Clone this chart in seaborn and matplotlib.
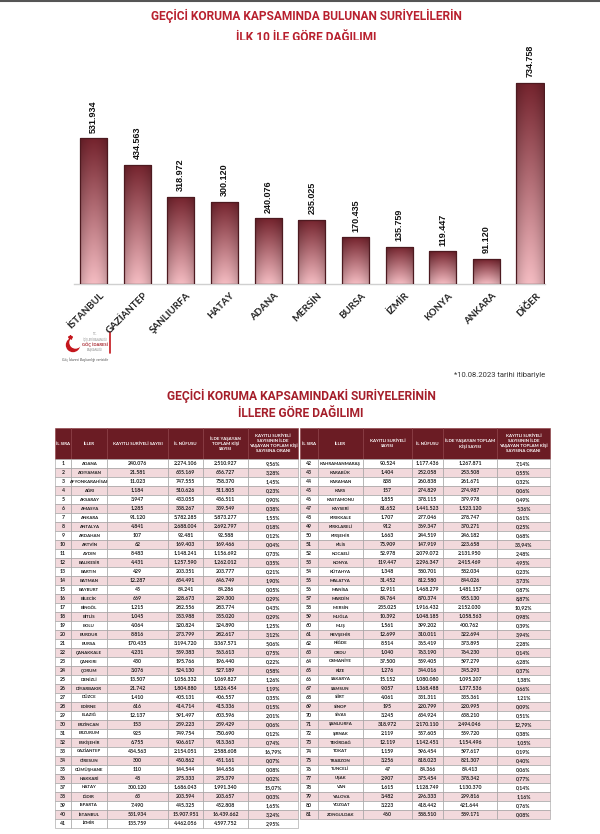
import seaborn as sns
import matplotlib.pyplot as plt
import matplotlib.colors as mcolors
import matplotlib.transforms as mtransforms
from matplotlib.patches import Circle
import numpy as np

# --- data: ilk 10 il + diğer ---
bar_labels = ["İSTANBUL", "GAZİANTEP", "ŞANLIURFA", "HATAY", "ADANA", "MERSİN",
              "BURSA", "İZMİR", "KONYA", "ANKARA", "DİĞER"]
bar_values = [531934, 434563, 318972, 300120, 240076, 235025,
              170435, 135759, 119447, 91120, 734758]

# --- data: 81 il tablosu ---
iller = ["ADANA", "ADIYAMAN", "AFYONKARAHİSAR", "AĞRI", "AKSARAY", "AMASYA", "ANKARA",
         "ANTALYA", "ARDAHAN", "ARTVİN", "AYDIN", "BALIKESİR", "BARTIN", "BATMAN",
         "BAYBURT", "BİLECİK", "BİNGÖL", "BİTLİS", "BOLU", "BURDUR", "BURSA",
         "ÇANAKKALE", "ÇANKIRI", "ÇORUM", "DENİZLİ", "DİYARBAKIR", "DÜZCE", "EDİRNE",
         "ELAZIĞ", "ERZİNCAN", "ERZURUM", "ESKİŞEHİR", "GAZİANTEP", "GİRESUN",
         "GÜMÜŞHANE", "HAKKARİ", "HATAY", "IĞDIR", "ISPARTA", "İSTANBUL", "İZMİR",
         "KAHRAMANMARAŞ", "KARABÜK", "KARAMAN", "KARS", "KASTAMONU", "KAYSERİ",
         "KIRIKKALE", "KIRKLARELİ", "KIRŞEHİR", "KİLİS", "KOCAELİ", "KONYA", "KÜTAHYA",
         "MALATYA", "MANİSA", "MARDİN", "MERSİN", "MUĞLA", "MUŞ", "NEVŞEHİR", "NİĞDE",
         "ORDU", "OSMANİYE", "RİZE", "SAKARYA", "SAMSUN", "SİİRT", "SİNOP", "SİVAS",
         "ŞANLIURFA", "ŞIRNAK", "TEKİRDAĞ", "TOKAT", "TRABZON", "TUNCELİ", "UŞAK",
         "VAN", "YALOVA", "YOZGAT", "ZONGULDAK"]
kayitli = [240076, 21581, 11023, 1184, 3947, 1285, 91120, 4841, 107, 62, 8483, 4431,
           429, 12287, 45, 669, 1215, 1045, 4064, 8816, 170435, 4231, 430, 3076, 13507,
           21742, 1410, 616, 12137, 153, 925, 6755, 434563, 300, 110, 48, 300120, 63,
           7490, 531934, 135759,
           90524, 1404, 838, 157, 1855, 81652, 1707, 912, 1663, 75909, 52978, 119447,
           1348, 31452, 12911, 84764, 235025, 10392, 1561, 12699, 8514, 1040, 37500,
           1276, 15152, 9057, 4061, 195, 3245, 318972, 2119, 12119, 1159, 3256, 47,
           2907, 1615, 3482, 3223, 460]
nufus = [2274106, 635169, 747555, 510626, 433055, 338267, 5782285, 2688004, 92481,
         169403, 1148241, 1257590, 203351, 634491, 84241, 228673, 282556, 353988,
         320824, 273799, 3194720, 559383, 195766, 524130, 1056332, 1804880, 405131,
         414714, 591497, 239223, 749754, 906617, 2154051, 450862, 144544, 275333,
         1686043, 203594, 445325, 15907951, 4462056,
         1177436, 252058, 260838, 274829, 378115, 1441523, 277046, 369347, 244519,
         147919, 2079072, 2296347, 580701, 812580, 1468279, 870374, 1916432, 1048185,
         399202, 310011, 365419, 763190, 559405, 344016, 1080080, 1368488, 331311,
         220799, 634924, 2170110, 557605, 1142451, 596454, 818023, 84366, 375454,
         1128749, 296333, 418442, 588510]
toplam = [2510927, 656727, 758370, 511805, 436511, 339549, 5873277, 2692797, 92588,
          169466, 1156692, 1262012, 203777, 646749, 84286, 229300, 283774, 355020,
          324890, 282617, 3367571, 563613, 196440, 527189, 1069827, 1826454, 406557,
          415336, 603596, 239429, 750690, 913363, 2588608, 451161, 144656, 275379,
          1991340, 203657, 452808, 16439662, 4597752,
          1267871, 253508, 261671, 274987, 379978, 1523120, 278747, 370271, 246182,
          223658, 2131950, 2415469, 582034, 844026, 1481157, 955130, 2152030, 1058563,
          400762, 322694, 373895, 764230, 597279, 345293, 1095207, 1377536, 335361,
          220995, 638210, 2494046, 559720, 1154496, 597617, 821307, 84413, 378342,
          1130370, 299816, 421644, 589171]
oran = [9.56, 3.28, 1.45, 0.23, 0.90, 0.38, 1.55, 0.18, 0.12, 0.04, 0.73, 0.35, 0.21,
        1.90, 0.05, 0.29, 0.43, 0.29, 1.25, 3.12, 5.06, 0.75, 0.22, 0.58, 1.26, 1.19,
        0.35, 0.15, 2.01, 0.06, 0.12, 0.74, 16.79, 0.07, 0.08, 0.02, 15.07, 0.03, 1.65,
        3.24, 2.95,
        7.14, 0.55, 0.32, 0.06, 0.49, 5.36, 0.61, 0.25, 0.68, 33.94, 2.48, 4.95, 0.23,
        3.73, 0.87, 8.87, 10.92, 0.98, 0.39, 3.94, 2.28, 0.14, 6.28, 0.37, 1.38, 0.66,
        1.21, 0.09, 0.51, 12.79, 0.38, 1.05, 0.19, 0.40, 0.06, 0.77, 0.14, 1.16, 0.76,
        0.08]

head_left = ["İL SIRA", "İLLER", "KAYITLI SURİYELİ SAYISI", "İL NÜFUSU",
             "İLDE YAŞAYAN\nTOPLAM KİŞİ\nSAYISI",
             "KAYITLI SURİYELİ\nSAYISININ İLDE\nYAŞAYAN TOPLAM KİŞİ\nSAYISINA ORANI"]
head_right = ["İL SIRA", "İLLER", "KAYITLI SURİYELİ\nSAYISI", "İL NÜFUSU",
              "İLDE YAŞAYAN TOPLAM\nKİŞİ SAYISI",
              "KAYITLI SURİYELİ\nSAYISININ İLDE\nYAŞAYAN TOPLAM KİŞİ\nSAYISINA ORANI"]

TITLE_FONT = ["Roboto", "DejaVu Sans"]
RED = "#b8202e"
W, H = 600, 834


def tr(n):
    return f"{n:,}".replace(",", ".")


def pct(v):
    return f"{v:.2f}".replace(".", ",") + "%"


sns.set_theme(style="white")
plt.rcParams["font.family"] = ["Lato", "DejaVu Sans"]

fig = plt.figure(figsize=(W / 100, H / 100), dpi=100)
renderer = fig.canvas.get_renderer()


def fit_width(txt, target_px):
    # scale the font so the text spans about the same width as in the reference
    w = txt.get_window_extent(renderer=renderer).width
    txt.set_fontsize(txt.get_fontsize() * target_px / w)
    return txt.get_fontsize()


# ---------------- bar chart ----------------
ax = fig.add_axes([73.9 / W, 1 - 284 / H, (545.3 - 73.9) / W, (284 - 40) / H])
sns.barplot(x=bar_labels, y=bar_values, width=0.62, color="#c07880", ax=ax)

top_c = np.array(mcolors.to_rgb("#74232d"))
bot_c = np.array(mcolors.to_rgb("#f4bcc2"))
for p in ax.patches:
    x0, y0, w, h = p.get_x(), p.get_y(), p.get_width(), p.get_height()
    t = np.linspace(0, 1, 120)[:, None, None]
    img = bot_c + (top_c - bot_c) * t
    shade = np.sin(np.linspace(0.15, np.pi - 0.15, 40))[None, :, None]
    img = np.clip(img * (0.78 + 0.22 * shade), 0, 1)
    im = ax.imshow(img, extent=[x0, x0 + w, y0, y0 + h], origin="lower",
                   aspect="auto", zorder=2)
    im.set_clip_path(p)
    p.set_facecolor("none")
    p.set_edgecolor("#4d1a20")
    p.set_linewidth(0.9)
    p.set_zorder(3)

for i, v in enumerate(bar_values):
    ax.annotate(tr(v), (i, v), xytext=(0, 4), textcoords="offset points",
                rotation=90, ha="center", va="bottom", fontsize=6.5,
                fontweight="bold", family="Liberation Sans", color="#111111")

ax.set_xlim(-0.45, 10.35)
ax.set_ylim(0, 890000)
ax.set_yticks([])
ax.set_ylabel("")
for s in ["top", "left", "right"]:
    ax.spines[s].set_visible(False)
ax.spines["bottom"].set_color("#d0d0d0")
ax.spines["bottom"].set_linewidth(1)
ax.tick_params(axis="x", length=0, pad=2)
ax.set_xticks(range(len(bar_labels)))
ax.set_xticklabels(bar_labels, rotation=45, ha="right", rotation_mode="anchor",
                   fontsize=7, fontweight="bold", color="#222222")
shift = mtransforms.ScaledTranslation(4 / 72, -3 / 72, fig.dpi_scale_trans)
for lab in ax.get_xticklabels():
    lab.set_transform(lab.get_transform() + shift)

# ---------------- overlay (titles, logo, table) ----------------
ov = fig.add_axes([0, 0, 1, 1], zorder=-1)
ov.set_xlim(0, W)
ov.set_ylim(H, 0)
ov.axis("off")

ov.plot([0, W], [1, 1], color="#555555", lw=1.5)

t1 = ov.text(306, 16, "GEÇİCİ KORUMA KAPSAMINDA BULUNAN SURİYELİLERİN", ha="center",
             va="center", fontsize=10, fontweight="bold", color=RED, family=TITLE_FONT)
fs1 = fit_width(t1, 312)
ov.text(306, 37, "İLK 10 İLE GÖRE DAĞILIMI", ha="center", va="center",
        fontsize=fs1, fontweight="bold", color=RED, family=TITLE_FONT)

# logo
ov.add_patch(Circle((73, 345), 6.5, color="#c4161c"))
ov.add_patch(Circle((75.5, 342.5), 5.5, color="white"))
ov.plot([69.5], [337], marker="*", color="#c4161c", ms=3)
ov.text(95, 337, "T.C.\nİÇİŞLERİ BAKANLIĞI", ha="center", va="center",
        fontsize=1.8, color="#888888", linespacing=1.1)
ov.text(95, 344.5, "GÖÇ İDARESİ", ha="center", va="center", fontsize=3,
        fontweight="bold", color="#a31b24")
ov.text(95, 350, "BAŞKANLIĞI", ha="center", va="center", fontsize=2,
        color="#888888")
ov.plot([110, 110], [332, 353], color="#c4161c", lw=1.2)
ov.text(62, 360, "Göç İdaresi Başkanlığı verisidir", ha="left", va="center",
        fontsize=2.6, style="italic", color="#555555")

fn = ov.text(545, 375, "*10.08.2023 tarihi itibariyle", ha="right", va="center",
             fontsize=7, color="#333333", family=TITLE_FONT)
fit_width(fn, 92)

t2 = ov.text(301, 396, "GEÇİCİ KORUMA KAPSAMINDAKİ SURİYELERİNİN", ha="center",
             va="center", fontsize=10, fontweight="bold", color="#a51e2a",
             family=TITLE_FONT)
fs2 = fit_width(t2, 270)
ov.text(301, 413, "İLLERE GÖRE DAĞILIMI", ha="center", va="center", fontsize=fs2,
        fontweight="bold", color="#a51e2a", family=TITLE_FONT)


def draw_table(idx, header, left, right, col_px):
    rows = [[str(i + 1), iller[i], tr(kayitli[i]), tr(nufus[i]), tr(toplam[i]),
             pct(oran[i])] for i in idx]
    n = len(rows)
    top, hh, rh = 428, 31, 9
    bottom = top + hh + n * rh
    tb = ov.table(cellText=rows, colLabels=header, colWidths=col_px,
                  cellLoc="center",
                  bbox=[left / W, 1 - bottom / H, (right - left) / W, (bottom - top) / H])
    tb.auto_set_font_size(False)
    tb.set_fontsize(3.7)
    for (r, c), cell in tb.get_celld().items():
        cell.set_linewidth(0.4)
        cell.set_edgecolor("#9a9a9a")
        if r == 0:
            cell.set_height(hh)
            cell.set_facecolor("#6b1c24")
            cell.set_edgecolor("#8a3a40")
            cell.get_text().set_color("white")
            cell.get_text().set_fontweight("bold")
            cell.get_text().set_fontsize(3.2)
        else:
            cell.set_height(rh)
            cell.set_facecolor("white" if r % 2 == 1 else "#f2d9dc")
            cell.get_text().set_color("#1c1c1c")
            cell.get_text().set_fontweight("bold")
            if c == 1:
                cell.get_text().set_fontsize(3.2)


draw_table(range(0, 41), head_left, 55, 298, [16, 36, 61, 35, 45, 50])
draw_table(range(41, 81), head_right, 300, 550, [18, 45, 49, 31, 54, 53])

fig.savefig("out.png", dpi=100)
